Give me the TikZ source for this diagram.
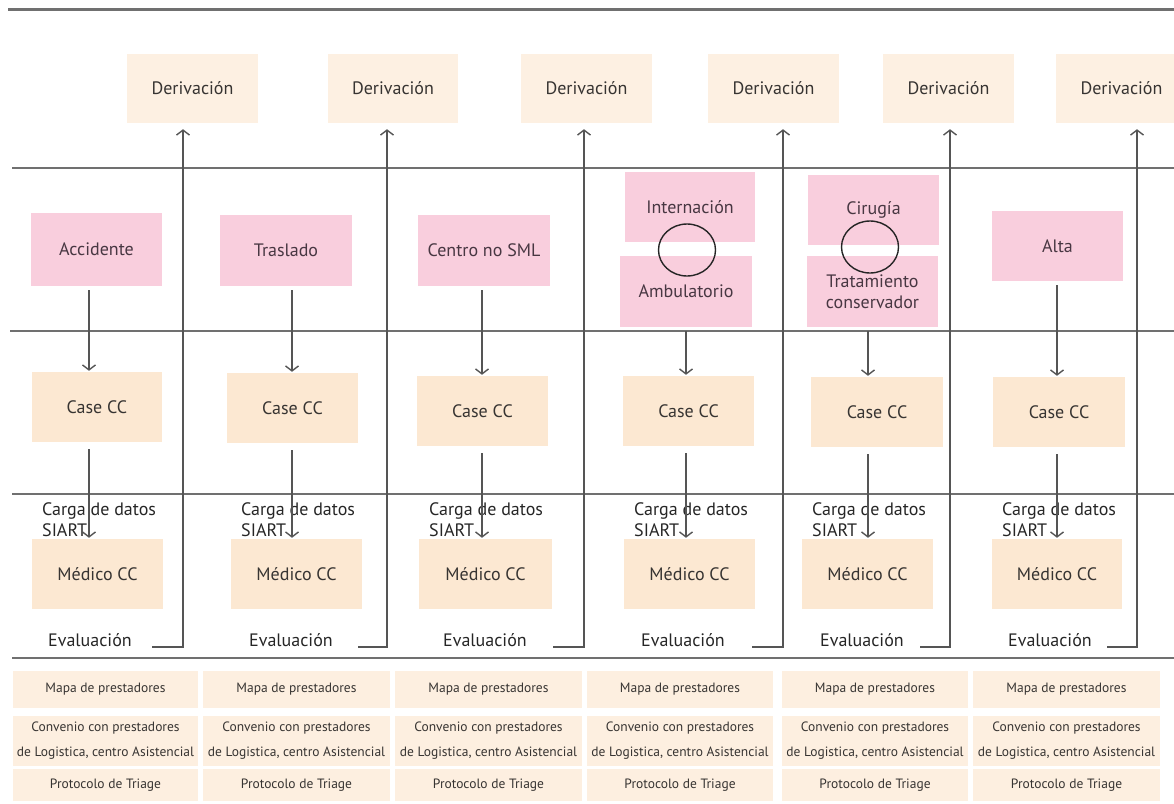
\documentclass[tikz,border=0pt]{standalone}
\usepackage{fontspec}
\setmainfont{PT Sans}
\usetikzlibrary{arrows.meta,shapes.geometric}

\definecolor{derivfill}{RGB}{253,240,226}
\definecolor{casefill}{RGB}{252,232,210}
\definecolor{pinkfill}{RGB}{249,206,221}
\definecolor{resfill}{RGB}{253,239,224}
\definecolor{txt}{RGB}{55,52,50}
\definecolor{pinktxt}{RGB}{72,55,66}
\definecolor{lanegray}{RGB}{112,112,112}
\definecolor{flowgray}{RGB}{85,85,85}

\begin{document}
\begin{tikzpicture}[x=1pt,y=-1pt,
  % a box given by its left, top, right and bottom edges
  area/.style n args={4}{minimum width={(#3-#1)*1pt}, minimum height={(#4-#2)*1pt},
    at={({(#1+#3)/2},{(#2+#4)/2})}},
  box/.style={inner sep=0pt, draw=none, text=txt, align=center,
    font=\fontsize{18}{21}\selectfont},
  deriv/.style={box, fill=derivfill},
  act/.style={box, fill=casefill},
  event/.style={box, fill=pinkfill, text=pinktxt},
  resource/.style={box, fill=resfill, font=\fontsize{13.5}{25}\selectfont},
  note/.style={inner sep=0pt, text=black!85, align=left,
    font=\fontsize{18}{21}\selectfont},
  lane/.style={draw=lanegray, line width=2pt},
  flow/.style={draw=flowgray, line width=1.4pt,
    -{Straight Barb[length=5pt,width=13pt]}},
  choice/.style={draw=black!85, line width=1.4pt, ellipse, inner sep=0pt}]

\useasboundingbox (0,0) rectangle (1174,803);
\clip (0,0) rectangle (1174,803);

% swimlane separators
\draw[lane, line width=3pt] (8,9) -- (1174,9);
\draw[lane] (12,168) -- (1174,168);
\draw[lane] (10,331) -- (1174,331);
\draw[lane] (12,494) -- (1174,494);
\draw[lane] (12,658) -- (1174,658);

% triggering events
\node[event, area={31}{213}{162}{286}]  (evt1) {Accidente};
\node[event, area={220}{215}{352}{286}] (evt2) {Traslado};
\node[event, area={418}{215}{550}{286}] (evt3) {Centro no SML};
\node[event, area={625}{172}{755}{242}] (int4) {Internación};
\node[event, area={620}{256}{752}{327}] (evt4) {Ambulatorio};
\node[event, area={808}{175}{939}{245}] (cir5) {Cirugía};
\node[event, area={807}{256}{938}{327}] (evt5) {Tratamiento\\conservador};
\node[event, area={992}{211}{1123}{281}] (evt6) {Alta};

% alternatives
\node[choice, minimum width=57pt, minimum height=52pt] (or4) at (687,250) {};
\node[choice, minimum width=57pt, minimum height=52pt] (or5) at (870,247) {};

% one column per case type
\foreach \i/\dL/\dR/\cL/\cR/\cT/\mL/\mR/\aX/\uX/\bX/\eX in {
  1/127/258/32/162/372/32/163/89/183/152/90,
  2/328/458/227/358/373/231/362/292/387/358/291,
  3/521/652/417/548/376/419/552/482/584/553/485,
  4/708/839/623/754/376/624/755/686/783/752/683,
  5/883/1014/811/943/377/802/933/868/950/920/862,
  6/1056/1187/993/1125/377/992/1122/1057/1137/1107/1050}{
  \node[deriv, area={\dL}{54}{\dR}{123}] (der\i) {Derivación};
  \node[act, area={\cL}{\cT}{\cR}{\cT+70}] (case\i) {Case CC};
  \node[act, area={\mL}{539}{\mR}{609}] (med\i) {Médico CC};
  \node[note, anchor=north west] (carga\i) at ({\mL+10},502) {Carga de datos\\SIART};
  \node[note, anchor=base] (eval\i) at (\eX,646) {Evaluación};
  \coordinate (ax\i) at (\aX,0);
  \coordinate (ev\i) at (\bX,647);
  \coordinate (up\i) at (\uX,647);
  \draw[flow, shorten <=4pt, shorten >=1pt] (evt\i.south -| ax\i) -- (case\i.north -| ax\i);
  \draw[flow, shorten <=7pt, shorten >=1pt] (case\i.south -| ax\i) -- (med\i.north -| ax\i);
  \draw[flow, shorten >=6pt] (ev\i) -- (up\i) -- (up\i |- der\i.south);
}

% supporting resources
\foreach \i/\rL/\rR in {1/13/198, 2/203/390, 3/395/582, 4/587/773, 5/782/968, 6/973/1160}{
  \node[resource, area={\rL}{671}{\rR}{708}] (map\i) {Mapa de prestadores};
  \node[resource, area={\rL}{716}{\rR}{766}] (conv\i) {Convenio con prestadores\\de Logistica, centro Asistencial};
  \node[resource, area={\rL}{769}{\rR}{801}] (prot\i) {Protocolo de Triage};
}
\end{tikzpicture}
\end{document}
